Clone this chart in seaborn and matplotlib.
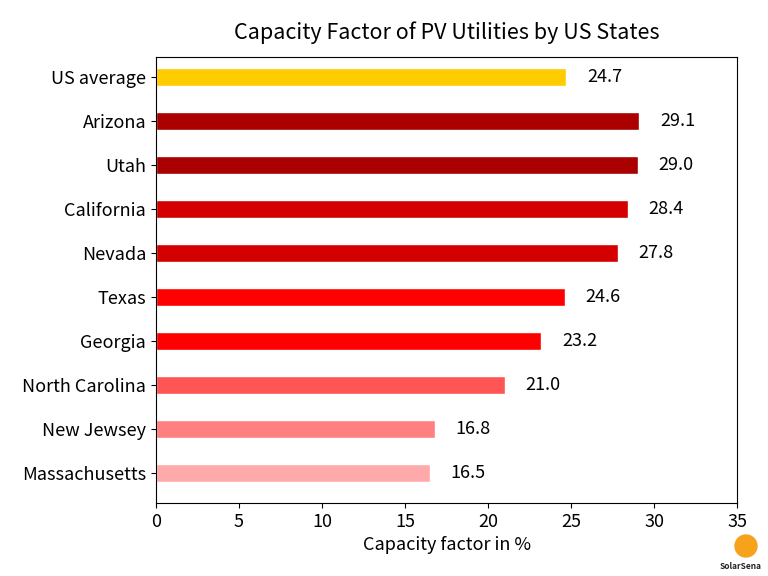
import matplotlib
matplotlib.use("Agg")
import matplotlib.pyplot as plt
from matplotlib.patches import Ellipse
import seaborn as sns
import pandas as pd

states = ["US average", "Arizona", "Utah", "California", "Nevada", "Texas",
          "Georgia", "North Carolina", "New Jewsey", "Massachusetts"]
capacity = [24.7, 29.1, 29.0, 28.4, 27.8, 24.6, 23.2, 21.0, 16.8, 16.5]
bar_colors = ["#FFCC00", "#AA0000", "#AA0000", "#D40000", "#D40000", "#FF0000",
              "#FF0000", "#FF5555", "#FF8080", "#FFAAAA"]

sns.set_style("ticks", {"text.color": "black", "xtick.color": "black",
                        "ytick.color": "black", "axes.labelcolor": "black",
                        "axes.edgecolor": "black"})
plt.rcParams["font.family"] = ["Noto Sans CJK SC", "DejaVu Sans"]

df = pd.DataFrame({"state": states, "capacity": capacity})

fig, ax = plt.subplots(figsize=(7.68, 5.76), dpi=100)
fig.subplots_adjust(left=0.203, right=0.96, top=0.901, bottom=0.127)

sns.barplot(data=df, x="capacity", y="state", hue="state", palette=bar_colors,
            order=states, hue_order=states, width=0.4, legend=False, ax=ax,
            saturation=1)

for container in ax.containers:
    ax.bar_label(container, fmt="%.1f", padding=15, fontsize=13, color="black")

ax.set_xlim(0, 35)
ax.set_ylim(9.68, -0.45)
ax.set_xticks(range(0, 36, 5))
ax.set_xlabel("Capacity factor in %", fontsize=13)
ax.set_ylabel("")
ax.tick_params(axis="both", labelsize=13, colors="black")
ax.set_title("Capacity Factor of PV Utilities by US States", fontsize=15.5,
             pad=13, color="black")
for s in ax.spines.values():
    s.set_visible(True)
    s.set_color("black")

# small logo mark in the corner
fig.patches.append(Ellipse((746 / 768, 1 - 546 / 576), 22 / 768, 22 / 576,
                           transform=fig.transFigure, color="#F7A21B", zorder=0))
fig.text(741 / 768, 0.012, "SolarSena", fontsize=6, fontweight="bold",
         ha="center", color="#222222")

fig.savefig("out.png", dpi=100)
